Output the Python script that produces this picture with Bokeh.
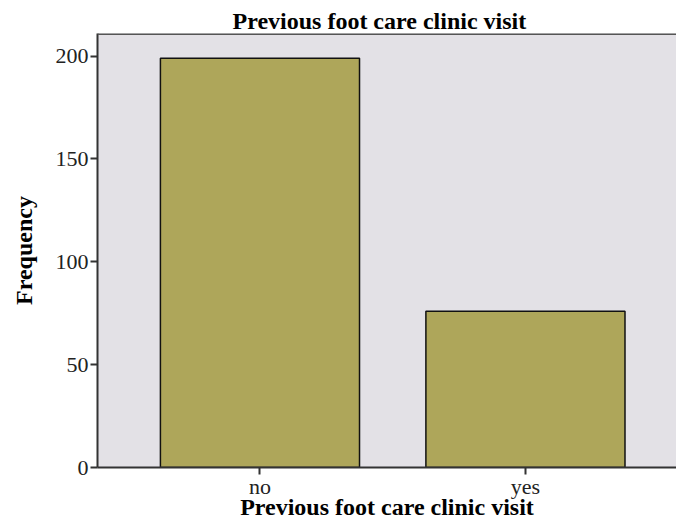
from bokeh.plotting import figure
from bokeh.models import FixedTicker, Range1d, Span, ColumnDataSource
from bokeh.embed import file_html
from bokeh.resources import INLINE

categories = ["no", "yes"]
counts = [199, 76]
y_ticks = [0, 50, 100, 150, 200]

positions = list(range(len(categories)))
src = ColumnDataSource(dict(x=positions, top=counts, cat=categories))

FONT = "Liberation Serif"

p = figure(width=676, height=522, output_backend="svg", toolbar_location=None,
           x_range=Range1d(-0.612, 1.569), y_range=Range1d(0, 211),
           min_border_left=97, min_border_right=0, min_border_top=33, min_border_bottom=55)

p.vbar(x="x", top="top", bottom=0, width=0.75, source=src,
       fill_color="#AEA65A", line_color="#111111", line_width=1.5)

p.background_fill_color = "#E3E1E6"
p.border_fill_color = "white"
p.outline_line_color = None
p.grid.visible = False

p.title.text = "Previous foot care clinic visit"
p.title.text_font = FONT
p.title.text_font_size = "24px"
p.title.text_font_style = "bold"
p.title.align = "left"
p.title.offset = 135
p.title.standoff = 0
p.title.text_color = "black"

p.add_layout(Span(location=211, dimension="width", line_color="#555555", line_width=3))

p.xaxis.ticker = FixedTicker(ticks=positions)
p.xaxis.major_label_overrides = {i: c for i, c in zip(positions, categories)}
p.yaxis.ticker = FixedTicker(ticks=y_ticks)

for ax in (p.xaxis, p.yaxis):
    ax.axis_line_color = "#333333"
    ax.axis_line_width = 2
    ax.major_tick_line_color = "#333333"
    ax.major_tick_line_width = 2
    ax.major_tick_in = 0
    ax.major_tick_out = 7
    ax.minor_tick_line_color = None
    ax.major_label_text_font = FONT
    ax.major_label_text_font_size = "22px"
    ax.major_label_text_color = "#222222"
    ax.axis_label_text_font = FONT
    ax.axis_label_text_font_style = "bold"
    ax.axis_label_text_color = "black"

p.xaxis.axis_label = "Previous foot care clinic visit"
p.xaxis.axis_label_text_font_size = "24px"
p.xaxis.major_label_standoff = -1
p.xaxis.axis_label_standoff = -8

p.yaxis.axis_label = "Frequency"
p.yaxis.axis_label_text_font_size = "24px"
p.yaxis.major_label_standoff = 2
p.yaxis.axis_label_standoff = 16

open("out.html", "w").write(file_html(p, INLINE))
